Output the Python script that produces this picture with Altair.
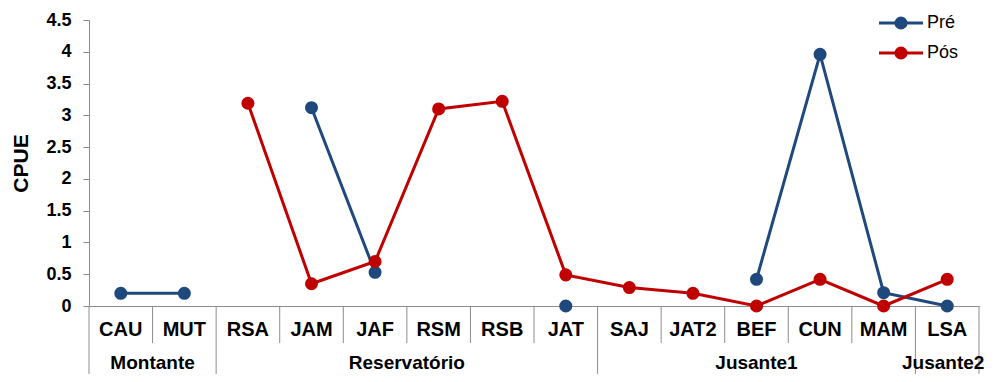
import altair as alt
import pandas as pd

categories = ["CAU", "MUT", "RSA", "JAM", "JAF", "RSM", "RSB", "JAT",
              "SAJ", "JAT2", "BEF", "CUN", "MAM", "LSA"]
groups = ["Montante", "Montante",
          "Reservatório", "Reservatório", "Reservatório", "Reservatório", "Reservatório", "Reservatório",
          "Jusante1", "Jusante1", "Jusante1", "Jusante1", "Jusante1",
          "Jusante2"]
pre = [0.2, 0.2, None, 3.12, 0.53, None, None, 0.0, None, None, 0.42, 3.96, 0.21, 0.0]
pos = [None, None, 3.19, 0.35, 0.70, 3.10, 3.22, 0.49, 0.29, 0.20, 0.0, 0.42, 0.0, 0.42]
series_names = ["Pré", "Pós"]
series_colors = ["#1F497D", "#C00000"]
y_ticks = [0, 0.5, 1, 1.5, 2, 2.5, 3, 3.5, 4, 4.5]

FONT = "Liberation Sans"
GRAY = "#8C8C8C"
W, H = 890, 286
BOTTOM = 354  # svg bottom in plot coordinates

# data points + contiguous segments (breaks at missing values)
rows = []
for name, vals in zip(series_names, [pre, pos]):
    seg = 0
    for i, v in enumerate(vals):
        if v is None:
            seg += 1
            continue
        rows.append(dict(idx=i, cat=categories[i], series=name, value=v, seg=f"{name}-{seg}"))
df = pd.DataFrame(rows)

cat_df = pd.DataFrame({"idx": list(range(len(categories))), "cat": categories})

# separators
inner_sep = []
group_sep = [-0.5]
for i in range(1, len(categories)):
    if groups[i] != groups[i - 1]:
        group_sep.append(i - 0.5)
    else:
        inner_sep.append(i - 0.5)
group_sep.append(len(categories) - 0.5)
inner_df = pd.DataFrame({"idx": inner_sep})
group_df = pd.DataFrame({"idx": group_sep})

# group labels
gnames, gcenters = [], []
for g in dict.fromkeys(groups):
    ids = [i for i, gg in enumerate(groups) if gg == g]
    gnames.append(g)
    gcenters.append(sum(ids) / len(ids))
glab_df = pd.DataFrame({"g": gnames, "idx": gcenters})

xscale = alt.Scale(domain=[-0.5, len(categories) - 0.5], nice=False, zero=False)
yscale = alt.Scale(domain=[0, 4.5], nice=False)
cscale = alt.Scale(domain=series_names, range=series_colors)

x_axis = alt.Axis(labels=False, ticks=False, grid=False, title=None,
                  domainColor=GRAY, domainWidth=1)
y_axis = alt.Axis(values=y_ticks, format="~g", title="CPUE", grid=False,
                  labelOverlap=False,
                  labelFont=FONT, labelFontSize=18, labelFontWeight="bold",
                  labelColor="black", labelPadding=12,
                  tickSize=6, tickColor=GRAY, domainColor=GRAY,
                  titleFont=FONT, titleFontSize=21, titleFontWeight="bold",
                  titleColor="black", titlePadding=14)


def X():
    return alt.X("idx:Q", scale=xscale, axis=x_axis, title=None)


def Y():
    return alt.Y("value:Q", scale=yscale, axis=y_axis, title="CPUE")


lines = alt.Chart(df).mark_line(strokeWidth=3).encode(
    x=X(), y=Y(),
    color=alt.Color("series:N", scale=cscale, legend=None),
    detail="seg:N", order="idx:Q")

points = alt.Chart(df).mark_circle(size=170, opacity=1).encode(
    x=X(), y=Y(),
    color=alt.Color("series:N", scale=cscale, legend=None))

cat_text = alt.Chart(cat_df).mark_text(font=FONT, fontSize=20, fontWeight="bold",
                                       color="black", baseline="middle").encode(
    x=X(), y=alt.value(310), text="cat:N")

inner_rules = alt.Chart(inner_df).mark_rule(color=GRAY, strokeWidth=1).encode(
    x=X(), y=alt.value(H), y2=alt.value(323))

group_rules = alt.Chart(group_df).mark_rule(color=GRAY, strokeWidth=1).encode(
    x=X(), y=alt.value(H), y2=alt.value(BOTTOM))

group_text = alt.Chart(glab_df.iloc[:-1]).mark_text(
    font=FONT, fontSize=19, fontWeight="bold", color="black", baseline="middle").encode(
    x=X(), y=alt.value(343), text="g:N")

group_text_last = alt.Chart(glab_df.iloc[-1:]).mark_text(
    font=FONT, fontSize=19, fontWeight="bold", color="black", baseline="middle",
    dx=-4).encode(
    x=X(), y=alt.value(343), text="g:N")

legend_layers = []
for k, (name, col) in enumerate(zip(series_names, series_colors)):
    ld = pd.DataFrame({"s": [name]})
    yy = 3 + 30 * k
    legend_layers.append(alt.Chart(ld).mark_rule(color=col, strokeWidth=3).encode(
        x=alt.value(790), x2=alt.value(834), y=alt.value(yy)))
    legend_layers.append(alt.Chart(ld).mark_circle(color=col, size=170, opacity=1).encode(
        x=alt.value(812), y=alt.value(yy)))
    legend_layers.append(alt.Chart(ld).mark_text(font=FONT, fontSize=18, color="black",
                                                 align="left", baseline="middle").encode(
        x=alt.value(838), y=alt.value(yy), text="s:N"))

chart = alt.layer(inner_rules, group_rules, lines, points, cat_text, group_text,
                  group_text_last, *legend_layers).properties(
    width=W, height=H,
    autosize=alt.AutoSizeParams(type="none"),
    padding={"left": 81, "top": 12, "right": 8, "bottom": 68},
    background="white",
).configure_view(stroke=None)

chart.save("out.html", embed_options={"renderer": "svg", "actions": False})
